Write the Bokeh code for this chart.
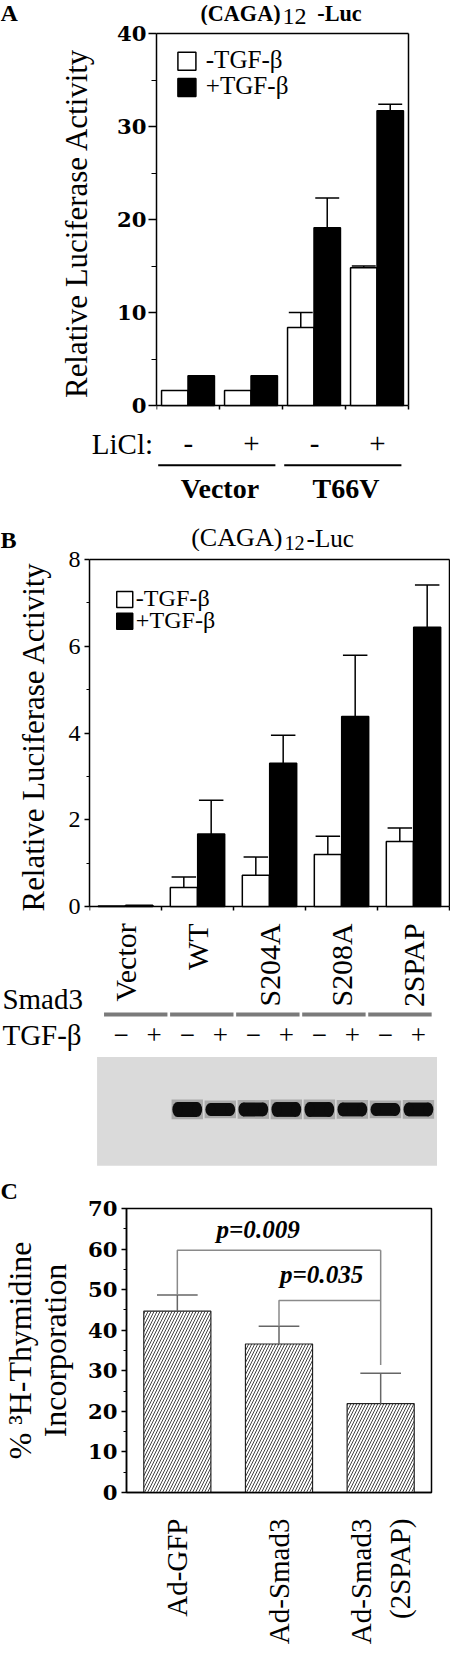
import math
from bokeh.plotting import figure
from bokeh.models import Range1d, ColumnDataSource, SingleIntervalTicker, FixedTicker
from bokeh.layouts import column
from bokeh.transform import dodge
from bokeh.core.properties import value
from bokeh.embed import file_html
from bokeh.resources import INLINE

# ------------------------------------------------------------------ data
a_licl = ["-", "+", "-", "+"]
a_construct = ["Vector", "Vector", "T66V", "T66V"]
series = ["-TGF-β", "+TGF-β"]
a_minus = [1.6, 1.6, 8.4, 14.8]
a_minus_err = [0.0, 0.0, 1.6, 0.2]
a_plus = [3.2, 3.2, 19.1, 31.7]
a_plus_err = [0.0, 0.0, 3.2, 0.7]

b_construct = ["Vector", "WT", "S204A", "S208A", "2SPAP"]
b_minus = [0.01, 0.44, 0.72, 1.20, 1.50]
b_minus_err = [0.0, 0.24, 0.42, 0.42, 0.31]
b_plus = [0.03, 1.67, 3.30, 4.38, 6.44]
b_plus_err = [0.0, 0.78, 0.65, 1.41, 0.97]
blot_tgf = ["\u2212", "+"] * 5
blot_band = [0, 0, 1, 1, 1, 1, 1, 1, 1, 1]
blot_band_h = [0, 0, 15, 13, 14, 15, 15, 14, 13, 14]

c_groups = ["Ad-GFP", "Ad-Smad3", "Ad-Smad3\n(2SPAP)"]
c_values = [44.7, 36.6, 21.9]
c_err = [4.0, 4.4, 7.5]
c_pvals = ["p=0.009", "p=0.035"]
c_pairs = [(0, 2), (1, 2)]
c_bracket_y = [59.7, 47.3]

# ------------------------------------------------------------------ layout helpers
W = 450
SX = 450 / 466
SY = 1647 / 1663
SERIF = "Liberation Serif"
WIDE = "DejaVu Serif"


def sx(v):
    return int(round(v * SX))


def sy(v):
    return int(round(v * SY))


def fs(n):
    return f"{n * SX:.1f}px"


def mid(baseline_py, size):
    """vertical middle of capitals for a text whose baseline is at baseline_py"""
    return baseline_py - 0.32 * size


def _fig(height, xr, yr, left, right, top, bottom, yaxis, xaxis):
    p = figure(width=W, height=height, x_range=xr, y_range=yr, title=None,
               output_backend="svg", toolbar_location=None,
               min_border_left=left, min_border_right=right,
               min_border_top=top, min_border_bottom=bottom,
               x_axis_location="below" if xaxis else None,
               y_axis_location="left" if yaxis else None)
    try:
        p.frame_align = False
    except Exception:
        pass
    p.grid.visible = False
    p.background_fill_color = "white"
    p.border_fill_color = "white"
    return p


def strip(top_ref, bot_ref, xr):
    """A text / annotation strip whose frame covers the whole strip."""
    p = _fig(sy(bot_ref) - sy(top_ref), xr, Range1d(0, bot_ref - top_ref), 0, 0, 0, 0, False, False)
    p.outline_line_color = None
    return p


def bar_panel(top_ref, bot_ref, L, R, T, B0, n, ymax, tick_len=4):
    """Bar chart whose frame reaches the figure bottom, so the zero tick label and
    the category boundary ticks below the x axis stay visible."""
    h = sy(bot_ref) - sy(top_ref)
    left = sx(L)
    xr_px = sx(R)
    frame_right = min(W, xr_px + 2)
    ppx = (xr_px - left) / n
    ft = int(round(T * SY - sy(top_ref))) - 2
    ytop = ft + 2
    y0 = int(round(B0 * SY - sy(top_ref)))
    ppy = (y0 - ytop) / ymax
    xr = Range1d(-0.5, n - 0.5 + (frame_right - xr_px) / ppx)
    yr = Range1d(-(h - y0) / ppy, ymax + 2 / ppy)
    p = _fig(h, xr, yr, left, W - frame_right, ft, 0, True, False)
    p.outline_line_color = None
    p.yaxis[0].bounds = (0, ymax)
    # frame: top, right and the x axis line, plus the category boundary ticks
    p.line(x=[-0.5, n - 0.5], y=[ymax, ymax], line_color="black", line_width=1.5)
    p.line(x=[n - 0.5, n - 0.5], y=[0, ymax], line_color="black", line_width=1.5)
    p.line(x=[-0.5, n - 0.5], y=[0, 0], line_color="black", line_width=1.5)
    bnd = [i - 0.5 for i in range(n + 1)]
    p.segment(x0=bnd, x1=bnd, y0=[0] * len(bnd), y1=[-tick_len / ppy] * len(bnd),
              line_color="black", line_width=1.5)
    return p


def txt(p, x, y, text, size, style="normal", align="left", baseline="middle",
        angle=0.0, font=SERIF, **kw):
    p.text(x=x, y=y, text=text, text_font=value(font), text_font_size=value(fs(size)),
           text_font_style=style, text_align=align, text_baseline=baseline,
           angle=angle, text_color="black", **kw)


def errbars(p, xs, tops, errs, cap, color, lw):
    pts = [(x, t, e) for x, t, e in zip(xs, tops, errs) if e > 0]
    src = ColumnDataSource(dict(x=[q[0] for q in pts], y0=[q[1] for q in pts],
                                y1=[q[1] + q[2] for q in pts],
                                xl=[q[0] - cap for q in pts], xr=[q[0] + cap for q in pts]))
    p.segment(x0="x", y0="y0", x1="x", y1="y1", source=src, line_color=color, line_width=lw)
    p.segment(x0="xl", y0="y1", x1="xr", y1="y1", source=src, line_color=color, line_width=lw)


def style_y(ax_, interval, major_out, minor_out, font, size, style, standoff,
            label, label_size, label_standoff):
    ax_.ticker = SingleIntervalTicker(interval=interval, num_minor_ticks=2)
    ax_.major_tick_in = 0
    ax_.minor_tick_in = 0
    ax_.major_tick_out = major_out
    ax_.minor_tick_out = minor_out
    ax_.axis_line_width = 1.5
    ax_.major_tick_line_width = 1.5
    ax_.minor_tick_line_width = 1.2
    ax_.major_label_text_font = font
    ax_.major_label_text_font_size = fs(size)
    ax_.major_label_text_font_style = style
    ax_.major_label_text_color = "black"
    ax_.major_label_standoff = standoff
    ax_.axis_label = label
    ax_.axis_label_text_font = SERIF
    ax_.axis_label_text_font_size = fs(label_size)
    ax_.axis_label_text_font_style = "normal"
    ax_.axis_label_text_color = "black"
    ax_.axis_label_standoff = label_standoff


# ================================================================== panel A
A_L, A_R, A_T, A_B = 162, 423, 33, 409
nA = len(a_minus)
gwA = (A_R - A_L) / nA


def ax(px):
    return -0.5 + (px - A_L) / gwA


def ay(py):
    return (A_B - py) * 40 / (A_B - A_T)


# title strip
At_B = 25
pAt = strip(0, At_B, Range1d(ax(0), ax(466)))
txt(pAt, [ax(0)], [At_B - mid(20, 25)], ["A"], 25, "bold")
txt(pAt, [ax(290)], [At_B - mid(20, 23)], ["(CAGA)"], 23, "bold", "right")
txt(pAt, [ax(292)], [At_B - mid(23.5, 25)], ["12"], 25)
txt(pAt, [ax(328)], [At_B - mid(20, 23)], ["-Luc"], 23, "bold")

# bars
pA = bar_panel(25, 418, A_L, A_R, A_T, A_B, nA, 40)
srcA = ColumnDataSource(dict(x=list(range(nA)), minus=a_minus, plus=a_plus))
pA.vbar(x=dodge("x", -0.21, range=pA.x_range), top="minus", width=0.42, source=srcA,
        fill_color="white", line_color="black", line_width=1.5)
pA.vbar(x=dodge("x", 0.21, range=pA.x_range), top="plus", width=0.42, source=srcA,
        fill_color="black", line_color="black", line_width=1.5)
errbars(pA, [i - 0.21 for i in range(nA)], a_minus, a_minus_err, 0.19, "black", 1.5)
errbars(pA, [i + 0.21 for i in range(nA)], a_plus, a_plus_err, 0.19, "black", 1.5)
style_y(pA.yaxis[0], 10, 8, 5, WIDE, 22, "bold", 2, "Relative Luciferase Activity", 32, 20)
pA.rect(x=[ax(193.5)] * 2, y=[ay(61), ay(87.5)], width=sx(19), height=sx(19),
        width_units="screen", height_units="screen",
        fill_color=["white", "black"], line_color="black", line_width=1.5)
txt(pA, [ax(213)] * 2, [ay(mid(68, 26)), ay(mid(94, 26))], series, 26)

# ================================================================== panel B geometry
B_L, B_R, B_T, B_B = 92, 465, 564, 915
nB = len(b_minus)
gwB = (B_R - B_L) / nB


def bx(px):
    return -0.5 + (px - B_L) / gwB


def by(py):
    return (B_B - py) * 8 / (B_B - B_T)


# LiCl / construct strip + panel B title
A2_T, A2_B = 418, 556


def Ab(py):
    return A2_B - py


pAb = strip(A2_T, A2_B, Range1d(ax(0), ax(466)))
txt(pAb, [ax(158)], [Ab(mid(457, 30))], ["LiCl:"], 30, align="right")
txt(pAb, list(range(nA)), [Ab(mid(457, 30))] * nA, a_licl, 30, align="center")
constructs = list(dict.fromkeys(a_construct))
idx = [[i for i, c in enumerate(a_construct) if c == k] for k in constructs]
pAb.segment(x0=[min(g) - 0.48 for g in idx], x1=[max(g) + 0.38 for g in idx],
            y0=[Ab(469)] * len(idx), y1=[Ab(469)] * len(idx), line_color="black", line_width=2)
txt(pAb, [sum(g) / len(g) for g in idx], [Ab(mid(502, 29))] * len(idx), constructs, 29,
    "bold", "center")
txt(pAb, [ax(0)], [Ab(mid(552, 25))], ["B"], 25, "bold")
txt(pAb, [ax(292)], [Ab(mid(551, 27))], ["(CAGA)"], 27, "normal", "right")
txt(pAb, [ax(294)], [Ab(mid(554, 21))], ["12"], 21)
txt(pAb, [ax(317)], [Ab(mid(551, 26))], ["-Luc"], 26)

# ================================================================== panel B
pB = bar_panel(556, 924, B_L, B_R, B_T, B_B, nB, 8)
srcB = ColumnDataSource(dict(x=list(range(nB)), minus=b_minus, plus=b_plus))
pB.vbar(x=dodge("x", -0.19, range=pB.x_range), top="minus", width=0.375, source=srcB,
        fill_color="white", line_color="black", line_width=1.5)
pB.vbar(x=dodge("x", 0.19, range=pB.x_range), top="plus", width=0.375, source=srcB,
        fill_color="black", line_color="black", line_width=1.5)
errbars(pB, [i - 0.19 for i in range(nB)], b_minus, b_minus_err, 0.17, "black", 1.5)
errbars(pB, [i + 0.19 for i in range(nB)], b_plus, b_plus_err, 0.17, "black", 1.5)
style_y(pB.yaxis[0], 2, 5, 3, SERIF, 25, "normal", 4, "Relative Luciferase Activity", 32, 14)
pB.rect(x=[bx(128.5)] * 2, y=[by(604.5), by(626.5)], width=sx(17), height=sx(17),
        width_units="screen", height_units="screen",
        fill_color=["white", "black"], line_color="black", line_width=1.5)
txt(pB, [bx(140)] * 2, [by(mid(611, 25)), by(mid(633, 25))], series, 25)

# construct labels, Smad3 / TGF-beta rows, blot and panel C letter
Bb_T, Bb_B = 924, 1212
LANE0, LANE_W = 125, 34.2


def lx(px):
    return (px - LANE0) / LANE_W


def Bb(py):
    return Bb_B - py


pBb = strip(Bb_T, Bb_B, Range1d(bx(0), bx(466)))
pBb.extra_x_ranges = {"lane": Range1d(lx(0), lx(466))}
txt(pBb, list(range(nB)), [Bb(932)] * nB, b_construct, 31, align="right",
    angle=math.pi / 2)
txt(pBb, [bx(2)], [Bb(mid(1018, 30))], ["Smad3"], 30)
txt(pBb, [bx(2)], [Bb(mid(1054, 30))], ["TGF-β"], 30)
nL = len(blot_tgf)
pBb.segment(x0=[2 * g - 0.52 for g in range(nB)], x1=[2 * g + 1.40 for g in range(nB)],
            y0=[Bb(1024)] * nB, y1=[Bb(1024)] * nB, line_color="#7a7a7a", line_width=4,
            x_range_name="lane")
txt(pBb, list(range(nL)), [Bb(mid(1054, 28))] * nL, blot_tgf, 28, align="center",
    x_range_name="lane")
pBb.quad(left=[lx(100)], right=[lx(452)], top=[Bb(1067)], bottom=[Bb(1177)],
         fill_color="#dadada", line_color=None, x_range_name="lane")
lanes = [k for k in range(nL) if blot_band[k] > 0]
hts = [blot_band_h[k] for k in lanes]
pBb.rect(x=lanes, y=[Bb(1120)] * len(lanes), width=0.95, height=[h + 5 for h in hts],
         fill_color="#505050", fill_alpha=0.35, line_color=None, x_range_name="lane")
pBb.rect(x=lanes, y=[Bb(1120)] * len(lanes), width=0.6, height=hts,
         fill_color="#0d0d0d", line_color=None, x_range_name="lane")
pBb.ellipse(x=[k - 0.3 for k in lanes], y=[Bb(1120)] * len(lanes), width=0.3, height=hts,
            fill_color="#0d0d0d", line_color=None, x_range_name="lane")
pBb.ellipse(x=[k + 0.3 for k in lanes], y=[Bb(1120)] * len(lanes), width=0.3, height=hts,
            fill_color="#0d0d0d", line_color=None, x_range_name="lane")
txt(pBb, [bx(0)], [Bb(mid(1210, 25))], ["C"], 25, "bold")

# ================================================================== panel C
C_L, C_R, C_T, C_B = 124, 446, 1220, 1516
nC = len(c_values)
gwC = (C_R - C_L) / nC


def cx(px):
    return (px - C_L) / gwC


def cy(py):
    return (C_B - py) * 70 / (C_B - C_T)


hC = sy(1663) - sy(1212)
pC = _fig(hC, Range1d(0, nC), Range1d(0, 70), sx(C_L), W - sx(C_R),
          int(round(C_T * SY - sy(1212))), hC - int(round(C_B * SY - sy(1212))), True, True)
pC.outline_line_color = "black"
pC.outline_line_width = 1.5
xs_c = [i + 0.5 for i in range(nC)]
pC.vbar(x=xs_c, top=c_values, width=0.66, fill_color="white", line_color="#222222",
        line_width=1.2, hatch_pattern="/", hatch_color="#444444", hatch_scale=6,
        hatch_weight=1)
errbars(pC, xs_c, c_values, c_err, 0.2, "#666666", 1.5)
for (a, b), yb in zip(c_pairs, c_bracket_y):
    ya = c_values[a] + c_err[a]
    pC.line(x=[xs_c[a], xs_c[a], xs_c[b]], y=[ya, yb, yb], line_color="#8a8a8a", line_width=1.5)
top_pair = max(c_bracket_y)
yb_end = c_values[2] + c_err[2] + 2.0
pC.line(x=[xs_c[2], xs_c[2]], y=[top_pair, yb_end], line_color="#8a8a8a", line_width=1.5)
txt(pC, [cx(263), cx(330)], [cy(mid(1250, 26)), cy(mid(1297, 26))], c_pvals, 26,
    "bold italic", "center")
style_y(pC.yaxis[0], 10, 5, 3, WIDE, 22, "bold", 4,
        "% \u00b3H-Thymidine\nIncorporation", 33, 12)
pC.yaxis[0].axis_label_text_line_height = 1.0
xa = pC.xaxis[0]
xa.ticker = FixedTicker(ticks=xs_c)
xa.major_label_overrides = {x: g for x, g in zip(xs_c, c_groups)}
xa.major_label_orientation = math.pi / 2
xa.major_tick_line_color = None
xa.minor_tick_line_color = None
xa.axis_line_width = 1.5
xa.major_label_text_font = SERIF
xa.major_label_text_font_size = fs(30)
xa.major_label_text_color = "black"
xa.major_label_standoff = sx(21)

layout = column(pAt, pA, pAb, pB, pBb, pC, spacing=0)
open("out.html", "w").write(file_html(layout, INLINE))
